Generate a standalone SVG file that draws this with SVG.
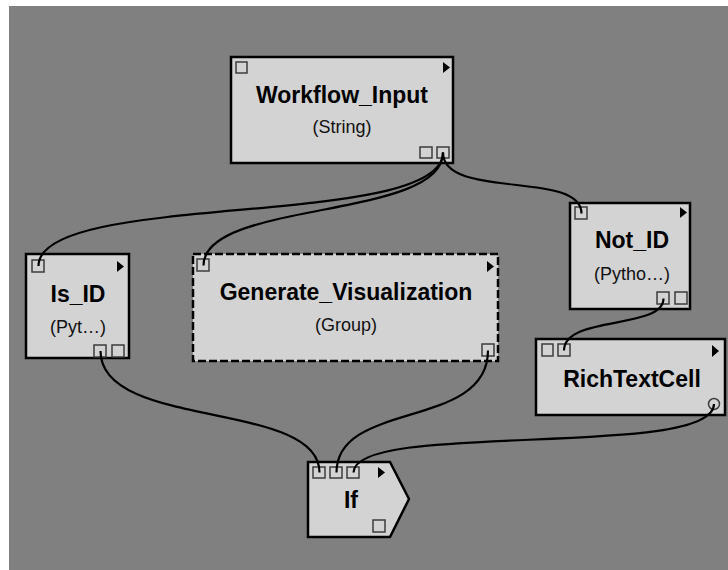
<svg xmlns="http://www.w3.org/2000/svg" width="728" height="570" viewBox="0 0 728 570">
<style>
.node{fill:#d3d3d3;stroke:#000;stroke-width:2.5}
.dash{stroke-dasharray:8 3}
.port{fill:#d3d3d3;stroke:#3c3c3c;stroke-width:1.5}
.tri{fill:#000}
.title{font-family:"Liberation Sans",Arial,sans-serif;font-weight:bold;font-size:23px;fill:#000;text-anchor:middle}
.sub{font-family:"Liberation Sans",Arial,sans-serif;font-size:18px;fill:#111;text-anchor:middle}
.conn path{fill:none;stroke:#000;stroke-width:2.2}
</style>
<rect x="0" y="0" width="728" height="570" fill="#fff"/>
<rect x="9" y="6" width="719" height="564" fill="#808080"/>

<g id="Workflow_Input">
<rect class="node" x="231" y="57" width="222" height="106"/>
<rect class="port" x="236" y="62" width="11" height="11"/>
<polygon class="tri" points="443,62 450,67.5 443,73"/>
<text class="title" x="342" y="103">Workflow_Input</text>
<text class="sub" x="342" y="133">(String)</text>
<rect class="port" x="420" y="147" width="12" height="11"/>
<rect class="port" x="437" y="147" width="12" height="11"/>
</g>

<g id="Is_ID">
<rect class="node" x="26" y="254" width="103" height="104"/>
<rect class="port" x="32" y="260" width="12" height="12"/>
<polygon class="tri" points="117,261 124,266.5 117,272"/>
<text class="title" x="78" y="302">Is_ID</text>
<text class="sub" x="78" y="333">(Pyt…)</text>
<rect class="port" x="94" y="345" width="12" height="12"/>
<rect class="port" x="112" y="345" width="12" height="12"/>
</g>

<g id="Generate_Visualization">
<rect class="node dash" x="193" y="254" width="305" height="107"/>
<rect class="port" x="197" y="259" width="12" height="12"/>
<polygon class="tri" points="487,261 494,266.5 487,272"/>
<text class="title" x="346" y="300">Generate_Visualization</text>
<text class="sub" x="346" y="331">(Group)</text>
<rect class="port" x="482" y="344" width="12" height="12"/>
</g>

<g id="Not_ID">
<rect class="node" x="570" y="203" width="120" height="106"/>
<rect class="port" x="575" y="207" width="12" height="12"/>
<polygon class="tri" points="680,207 687,212.5 680,218"/>
<text class="title" x="632" y="248">Not_ID</text>
<text class="sub" x="632" y="280">(Pytho…)</text>
<rect class="port" x="657" y="292" width="12" height="12"/>
<rect class="port" x="675" y="292" width="12" height="12"/>
</g>

<g id="RichTextCell">
<rect class="node" x="536" y="339" width="189" height="76"/>
<rect class="port" x="542" y="344" width="11" height="12"/>
<rect class="port" x="558" y="344" width="12" height="12"/>
<polygon class="tri" points="712,345 719,351 712,357"/>
<text class="title" x="632" y="387">RichTextCell</text>
<circle class="port" cx="714" cy="404" r="5.5"/>
</g>

<g id="If">
<polygon class="node" points="308,462 390,462 409,499 390,537 308,537"/>
<rect class="port" x="313" y="467" width="12" height="11"/>
<rect class="port" x="330" y="467" width="12" height="11"/>
<rect class="port" x="347" y="467" width="12" height="11"/>
<polygon class="tri" points="378,467 385,472.5 378,478"/>
<text class="title" x="351" y="508">If</text>
<rect class="port" x="373" y="520" width="12" height="12"/>
</g>

<g class="conn" id="connectors">
<path d="M443,152.5 C443,230 38.5,190 38.5,266"/>
<path d="M443,152.5 C443,220 203.5,200 203.5,265.5"/>
<path d="M443,152.5 C443,200 581.5,170 581.5,213.5"/>
<path d="M100.5,351 C100.5,430 319.5,400 319.5,472.5"/>
<path d="M488,350.5 C488,430 336.5,400 336.5,472.5"/>
<path d="M663.5,298.5 C663.5,330 564,315 564,350.5"/>
<path d="M714,404 C714,460 353.5,420 353.5,472.5"/>
</g>
</svg>
